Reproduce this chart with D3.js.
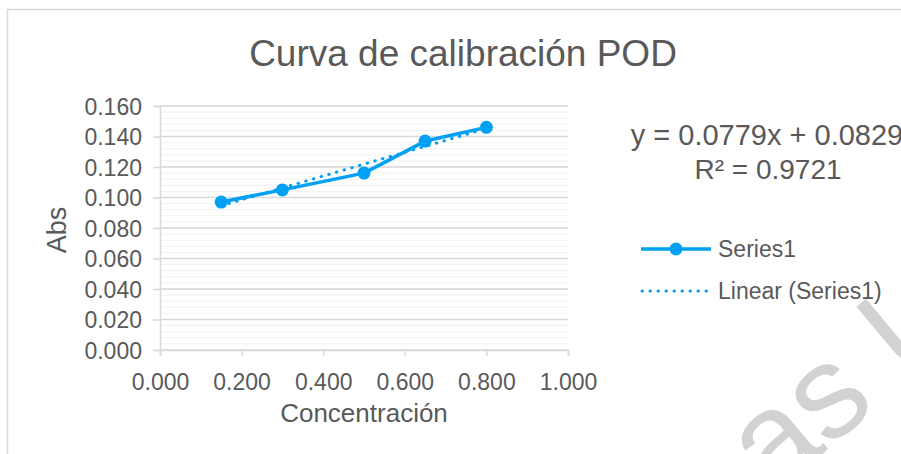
<!DOCTYPE html>
<html>
<head>
<meta charset="utf-8">
<script src="https://cdn.jsdelivr.net/npm/d3@7"></script>
<style>
    body { margin: 0; background: #ffffff; }
    text { font-family: "Liberation Sans", Arial, sans-serif; fill: #595959; }
</style>
</head>
<body>
<div id="chart"></div>
<script>
let width = 901;
let height = 454;

// data
let concentracion = [0.15, 0.30, 0.50, 0.65, 0.80];
let abs = [0.097, 0.105, 0.116, 0.137, 0.146];
let trendSlope = 0.0779;
let trendIntercept = 0.0829;
let xTicks = [0, 0.2, 0.4, 0.6, 0.8, 1.0];
let yTicks = [0, 0.02, 0.04, 0.06, 0.08, 0.10, 0.12, 0.14, 0.16];
let yMinorTicks = d3.range(0, 161, 4).map(d => d / 1000);
let legendLabels = ["Series1", "Linear (Series1)"];

let blue = "#00a0f4";
let grid = "#d9d9d9";

let svg = d3.select("#chart")
    .append("svg")
    .attr("width", width)
    .attr("height", height);

// outer chart border (runs off the right and bottom)
svg.append("path")
    .attr("d", "M7.5," + (height + 5) + "V9.5H" + (width + 5))
    .attr("fill", "none")
    .attr("stroke", grid)
    .attr("stroke-width", 1.5);

let x = d3.scaleLinear().domain([0, 1]).range([160, 568]);
let y = d3.scaleLinear().domain([0, 0.16]).range([350, 106]);

// minor gridlines
svg.append("g")
    .selectAll("line")
    .data(yMinorTicks)
    .join("line")
    .attr("x1", x(0))
    .attr("x2", x(1))
    .attr("y1", d => y(d))
    .attr("y2", d => y(d))
    .attr("stroke", "#f0f0f0")
    .attr("stroke-width", 1);

// major gridlines
svg.append("g")
    .selectAll("line")
    .data(yTicks)
    .join("line")
    .attr("x1", x(0))
    .attr("x2", x(1))
    .attr("y1", d => y(d))
    .attr("y2", d => y(d))
    .attr("stroke", grid)
    .attr("stroke-width", 1.5);

let yAxis = svg.append("g")
    .attr("transform", "translate(" + x(0) + ",0)")
    .call(d3.axisLeft(y).tickValues(yTicks).tickFormat(d3.format(".3f")).tickSize(7).tickPadding(11));

let xAxis = svg.append("g")
    .attr("transform", "translate(0," + y(0) + ")")
    .call(d3.axisBottom(x).tickValues(xTicks).tickFormat(d3.format(".3f")).tickSize(6).tickPadding(12));

[yAxis, xAxis].forEach(function (ax) {
    ax.select(".domain").attr("stroke", grid).attr("stroke-width", 1.5);
    ax.selectAll(".tick line").attr("stroke", grid).attr("stroke-width", 1.5);
    ax.selectAll(".tick text")
        .attr("fill", "#595959")
        .style("font-family", "'Liberation Sans', Arial, sans-serif")
        .style("font-size", "23px");
});
yAxis.selectAll(".tick text").attr("dy", "0.36em");
xAxis.selectAll(".tick text").attr("dy", "0.95em");

// trendline
svg.append("line")
    .attr("x1", x(d3.min(concentracion)))
    .attr("x2", x(d3.max(concentracion)))
    .attr("y1", y(trendSlope * d3.min(concentracion) + trendIntercept))
    .attr("y2", y(trendSlope * d3.max(concentracion) + trendIntercept))
    .attr("stroke", blue)
    .attr("stroke-width", 3)
    .attr("stroke-linecap", "round")
    .attr("stroke-dasharray", "0.5,7.5");

// series line and markers
let line = d3.line()
    .x((d, i) => x(concentracion[i]))
    .y(d => y(d));

svg.append("path")
    .datum(abs)
    .attr("d", line)
    .attr("fill", "none")
    .attr("stroke", blue)
    .attr("stroke-width", 3.5)
    .attr("stroke-linejoin", "round");

svg.append("g")
    .selectAll("circle")
    .data(abs)
    .join("circle")
    .attr("cx", (d, i) => x(concentracion[i]))
    .attr("cy", d => y(d))
    .attr("r", 6.5)
    .attr("fill", blue);

// titles
svg.append("text")
    .attr("x", 463)
    .attr("y", 66)
    .attr("text-anchor", "middle")
    .style("font-size", "37px")
    .text("Curva de calibración POD");

svg.append("text")
    .attr("x", x(0.5))
    .attr("y", 422)
    .attr("text-anchor", "middle")
    .style("font-size", "26px")
    .text("Concentración");

svg.append("text")
    .attr("transform", "translate(66,230) rotate(-90)")
    .attr("text-anchor", "middle")
    .style("font-size", "27px")
    .text("Abs");

// trendline equation (cut off by the right edge, as in the source)
svg.append("text")
    .attr("x", 767)
    .attr("y", 145)
    .attr("text-anchor", "middle")
    .style("font-size", "29px")
    .text("y = " + trendSlope + "x + " + trendIntercept);

svg.append("text")
    .attr("x", 768)
    .attr("y", 179)
    .attr("text-anchor", "middle")
    .style("font-size", "28px")
    .text("R² = 0.9721");

// legend
let legend = svg.append("g");
legend.append("line")
    .attr("x1", 641).attr("x2", 711)
    .attr("y1", 249).attr("y2", 249)
    .attr("stroke", blue)
    .attr("stroke-width", 3.5);
legend.append("circle")
    .attr("cx", 676).attr("cy", 249)
    .attr("r", 6.5)
    .attr("fill", blue);
legend.append("line")
    .attr("x1", 642).attr("x2", 711)
    .attr("y1", 291).attr("y2", 291)
    .attr("stroke", blue)
    .attr("stroke-width", 3)
    .attr("stroke-linecap", "round")
    .attr("stroke-dasharray", "0.5,7.5");
legend.selectAll("text")
    .data(legendLabels)
    .join("text")
    .attr("x", 718)
    .attr("y", (d, i) => 257 + i * 42)
    .style("font-size", "23px")
    .text(d => d);

// watermark, partly off the page
svg.append("text")
    .attr("transform", "translate(772,496) rotate(-40)")
    .style("font-size", "132px")
    .style("fill", "#d2d2d2")
    .text("as U");
</script>
</body>
</html>
